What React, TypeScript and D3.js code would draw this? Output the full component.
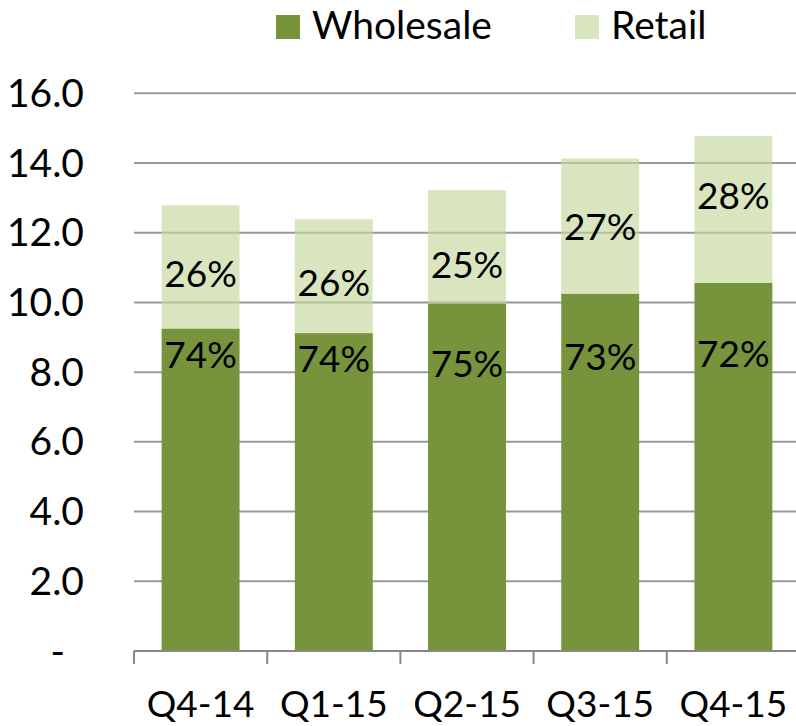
import React from "react";
import * as d3 from "d3";

const categories = ["Q4-14", "Q1-15", "Q2-15", "Q3-15", "Q4-15"];
const wholesale = [9.25, 9.12, 9.97, 10.25, 10.56];
const retail = [3.54, 3.27, 3.25, 3.88, 4.21];
const wholesaleLabels = ["74%", "74%", "75%", "73%", "72%"];
const retailLabels = ["26%", "26%", "25%", "27%", "28%"];
// label anchor values (data units) as placed in the original chart
const wholesaleLabelAt = [8.11, 8.01, 7.87, 8.06, 8.16];
const retailLabelAt = [10.45, 10.18, 10.69, 11.79, 12.69];
const yTicks = [0, 2, 4, 6, 8, 10, 12, 14, 16];
const seriesNames = ["Wholesale", "Retail"];

const W = 796;
const H = 726;
const FONT = "Lato, 'Open Sans', sans-serif";
const DARK = "#77933c";
const LIGHT = "#c4d79b";

export default function App() {
  const x = d3
    .scaleBand<string>()
    .domain(categories)
    .range([134, 800])
    .paddingInner(0.415)
    .paddingOuter(0.2075);
  const y = d3.scaleLinear().domain([0, 16]).range([651, 93.3]);
  const fmt = (v: number) => (v === 0 ? "-" : d3.format(".1f")(v));
  const step = x.step();
  const boundaries = d3.range(categories.length + 1).map((i) => 134 + i * step);

  return (
    <svg
      width={W}
      height={H}
      style={{ position: "absolute", left: 0, top: 0, background: "#fff" }}
      fontFamily={FONT}
    >
      {yTicks
        .filter((t) => t > 0)
        .map((t) => (
          <line key={t} x1={134} x2={800} y1={y(t)} y2={y(t)} stroke="#999" strokeWidth={2} />
        ))}
      {yTicks.map((t) => (
        <text
          key={"yl" + t}
          x={t === 0 ? 65 : 84}
          y={y(t) + 13.5}
          textAnchor="end"
          fontSize={39}
          fill="#000"
        >
          {fmt(t)}
        </text>
      ))}
      {categories.map((c, i) => (
        <g key={c}>
          <rect
            x={x(c)}
            width={x.bandwidth()}
            y={y(wholesale[i])}
            height={y(0) - y(wholesale[i])}
            fill={DARK}
          />
          <rect
            x={x(c)}
            width={x.bandwidth()}
            y={y(wholesale[i] + retail[i])}
            height={y(wholesale[i]) - y(wholesale[i] + retail[i])}
            fill={LIGHT}
            fillOpacity={0.65}
          />
          <text
            x={(x(c) as number) + x.bandwidth() / 2}
            y={y(wholesaleLabelAt[i])}
            textAnchor="middle"
            fontSize={37}
            fill="#000"
          >
            {wholesaleLabels[i]}
          </text>
          <text
            x={(x(c) as number) + x.bandwidth() / 2}
            y={y(retailLabelAt[i])}
            textAnchor="middle"
            fontSize={37}
            fill="#000"
          >
            {retailLabels[i]}
          </text>
          <text
            x={(x(c) as number) + x.bandwidth() / 2}
            y={717}
            textAnchor="middle"
            fontSize={37}
            fill="#000"
          >
            {c}
          </text>
        </g>
      ))}
      <line x1={134} x2={800} y1={y(0)} y2={y(0)} stroke="#888" strokeWidth={2} />
      {boundaries.map((bx, i) => (
        <line key={"t" + i} x1={bx} x2={bx} y1={y(0)} y2={y(0) + 13} stroke="#888" strokeWidth={2} />
      ))}
      <rect x={276} y={15} width={24} height={24} fill={DARK} />
      <text x={312} y={39} fontSize={39} fill="#000">
        {seriesNames[0]}
      </text>
      <rect x={575} y={15} width={24} height={24} fill={LIGHT} fillOpacity={0.65} />
      <text x={611} y={39} fontSize={39} fill="#000">
        {seriesNames[1]}
      </text>
    </svg>
  );
}
